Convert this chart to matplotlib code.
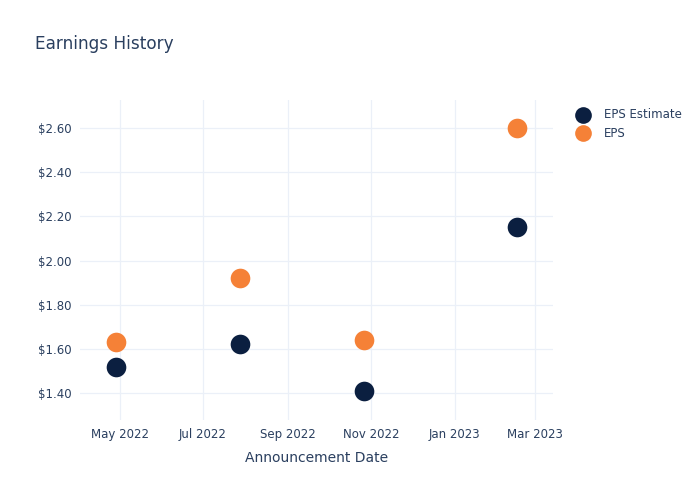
import pandas as pd
import matplotlib
matplotlib.use("Agg")
import matplotlib.pyplot as plt
import matplotlib.dates as mdates
from matplotlib.ticker import FuncFormatter

# Announcement dates and EPS values
dates = pd.to_datetime(["2022-04-28", "2022-07-28", "2022-10-27", "2023-02-16"])
eps_estimate = [1.52, 1.62, 1.41, 2.15]
eps_actual = [1.63, 1.92, 1.64, 2.60]

text_color = "#2a3f5f"
grid_color = "#ebf0f8"
navy = "#0b1f40"
orange = "#f58137"

plt.rcParams["font.family"] = ["DejaVu Sans"]

fig = plt.figure(figsize=(7, 5), dpi=100)
ax = fig.add_axes([80 / 700, 80 / 500, 473 / 700, 320 / 500])

ax.scatter(dates, eps_estimate, s=200, color=navy, label="EPS Estimate", zorder=3, linewidths=0)
ax.scatter(dates, eps_actual, s=200, color=orange, label="EPS", zorder=3, linewidths=0)

ax.set_xlim(pd.Timestamp("2022-04-02"), pd.Timestamp("2023-03-14"))
ax.set_ylim(1.278, 2.727)

ax.xaxis.set_major_locator(mdates.MonthLocator(bymonth=[1, 3, 5, 7, 9, 11]))
ax.xaxis.set_major_formatter(mdates.DateFormatter("%b %Y"))
ax.set_yticks([1.4, 1.6, 1.8, 2.0, 2.2, 2.4, 2.6])
ax.yaxis.set_major_formatter(FuncFormatter(lambda v, p: f"${v:.2f}"))

ax.grid(True, color=grid_color, linewidth=0.9)
ax.set_axisbelow(True)
for s in ax.spines.values():
    s.set_visible(False)
ax.tick_params(length=0, colors=text_color, labelsize=8.5, pad=6)

ax.set_xlabel("Announcement Date", color=text_color, fontsize=10, labelpad=7)

fig.text(35 / 700, 1 - 44 / 500, "Earnings History", color=text_color, fontsize=12.2, va="center", ha="left")

leg = ax.legend(loc="upper left", bbox_to_anchor=(1.02, 1.0), frameon=False,
                fontsize=8.5, labelcolor=text_color, handletextpad=0.8,
                borderaxespad=0.3, labelspacing=0.45, markerscale=0.85)

fig.savefig("out.png", dpi=100)
